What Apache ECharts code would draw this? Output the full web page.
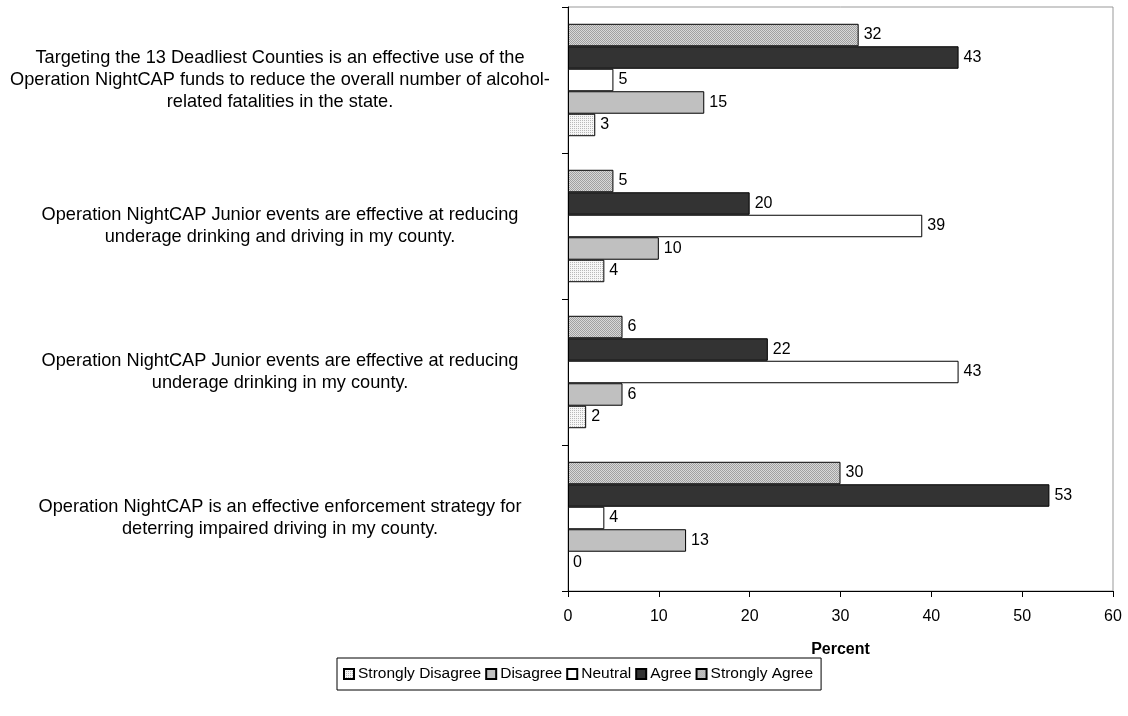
<!DOCTYPE html>
<html><head><meta charset="utf-8">
<script src="https://cdn.jsdelivr.net/npm/echarts@6/dist/echarts.min.js"></script>
<style>html,body{margin:0;padding:0;background:#fff}#c{width:1128px;height:716px}</style>
</head><body><div id="c"></div>
<script>
const categories = [
  "Operation NightCAP is an effective enforcement strategy for\ndeterring impaired driving in my county.",
  "Operation NightCAP Junior events are effective at reducing\nunderage drinking in my county.",
  "Operation NightCAP Junior events are effective at reducing\nunderage drinking and driving in my county.",
  "Targeting the 13 Deadliest Counties is an effective use of the\nOperation NightCAP funds to reduce the overall number of alcohol-\nrelated fatalities in the state."
];
const seriesNames = ["Strongly Disagree", "Disagree", "Neutral", "Agree", "Strongly Agree"];
const stronglyDisagree = [0, 2, 4, 3];
const disagree = [13, 6, 10, 15];
const neutral = [4, 43, 39, 5];
const agree = [53, 22, 20, 43];
const stronglyAgree = [30, 6, 5, 32];
const xTicks = [0, 60, 10];

function pattern(bg, fg, type) {
  const c = document.createElement('canvas');
  c.width = 4; c.height = 4;
  const g = c.getContext('2d');
  g.fillStyle = bg; g.fillRect(0, 0, 4, 4);
  g.fillStyle = fg;
  if (type === 'dots') {
    g.fillRect(0, 0, 1, 1); g.fillRect(2, 2, 1, 1);
    g.fillRect(2, 0, 1, 1); g.fillRect(0, 2, 1, 1);
  } else {
    g.fillRect(0, 0, 1, 1); g.fillRect(1, 1, 1, 1); g.fillRect(2, 2, 1, 1); g.fillRect(3, 3, 1, 1);
    g.fillRect(2, 0, 1, 1); g.fillRect(3, 1, 1, 1); g.fillRect(0, 2, 1, 1); g.fillRect(1, 3, 1, 1);
  }
  return { image: c, repeat: 'repeat' };
}

const fills = [
  pattern('#f6f6f6', '#b8b8b8', 'dots'),
  '#c0c0c0',
  '#ffffff',
  '#333333',
  pattern('#d8d8d8', '#a0a0a0', 'check')
];
const values = [stronglyDisagree, disagree, neutral, agree, stronglyAgree];
const font = 'Liberation Sans, Arial, sans-serif';

const series = seriesNames.map((n, i) => ({
  name: n, type: 'bar',
  data: values[i].map(v => v === 0 ? { value: v, itemStyle: { borderWidth: 0 } } : v),
  barGap: '0%', barCategoryGap: '23%',
  itemStyle: { color: fills[i], borderColor: '#000', borderWidth: 1 },
  label: { show: true, position: 'right', distance: 5, fontSize: 16, color: '#000', fontFamily: font }
})).reverse();

const chart = echarts.init(document.getElementById('c'), null, { renderer: 'canvas' });
chart.setOption({
  animation: false,
  textStyle: { fontFamily: font, color: '#000' },
  grid: { left: 568, right: 15, top: 7, bottom: 125, show: true, borderColor: '#999', borderWidth: 1 },
  legend: {
    data: seriesNames,
    left: 337, top: 658,
    orient: 'horizontal',
    borderColor: '#000', borderWidth: 1,
    padding: [8, 8, 8, 6],
    itemGap: 4, itemWidth: 10, itemHeight: 10,
    icon: 'rect',
    textStyle: { fontSize: 15.5, color: '#000', fontFamily: font, padding: [0, 0, 0, -1] }
  },
  xAxis: {
    type: 'value', min: xTicks[0], max: xTicks[1], interval: xTicks[2],
    name: 'Percent', nameLocation: 'middle', nameGap: 51,
    nameTextStyle: { fontSize: 16, fontWeight: 'bold', color: '#000', fontFamily: font },
    axisLine: { show: true, lineStyle: { color: '#000' } },
    axisTick: { show: true, length: 6, lineStyle: { color: '#000' } },
    axisLabel: { fontSize: 16, color: '#000', margin: 18, fontFamily: font },
    splitLine: { show: false }
  },
  yAxis: {
    type: 'category', data: categories,
    axisLine: { show: true, lineStyle: { color: '#000' } },
    axisTick: { show: true, length: 6, lineStyle: { color: '#000' } },
    axisLabel: { fontSize: 18.2, color: '#000', align: 'center', margin: 288, lineHeight: 22,
      fontFamily: font, padding: [0, 0, 12, 0] }
  },
  series: series
});
</script></body></html>
